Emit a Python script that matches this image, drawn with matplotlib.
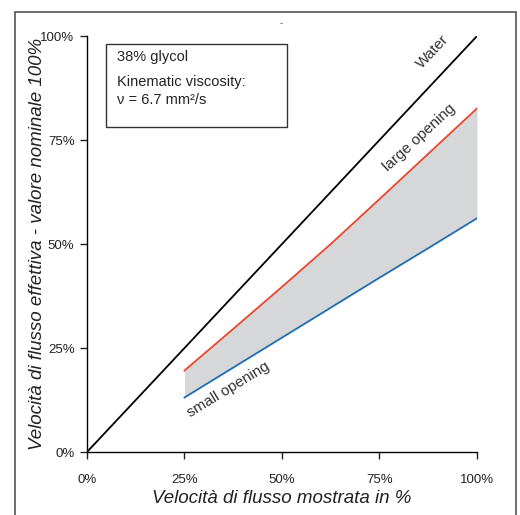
"""portata effettiva vs portata mostrata (38% glicole)."""

import matplotlib.pyplot as plt
from matplotlib.patches import Rectangle

# dati (in %)
water_x = [0, 100]
water_y = [0, 100]

open_x = [25, 37.5, 50, 62.5, 75, 87.5, 100]
large_y = [19.6, 29.6, 39.7, 50.0, 60.8, 71.7, 82.6]
small_y = [13.1, 20.3, 27.5, 34.7, 41.9, 49.0, 56.2]

ticks = [0, 25, 50, 75, 100]
tick_labels = ["0%", "25%", "50%", "75%", "100%"]

info_lines = ["38% glycol", "Kinematic viscosity:", "ν = 6.7 mm²/s"]

plt.rcParams["font.family"] = ["Liberation Sans", "DejaVu Sans"]

fig = plt.figure(figsize=(5.2, 5.15), dpi=100)
ax = fig.add_axes([0.1673, 0.1223, 0.75, 0.8077])

# cornice esterna
fig.patches.append(Rectangle((15 / 520, -0.02), 501 / 520, 1.02 - 12 / 515,
                             transform=fig.transFigure, fill=False,
                             edgecolor="#555555", linewidth=1.2))

ax.fill_between(open_x, small_y, large_y, color="#d6d7d9", linewidth=0)
ax.plot(water_x, water_y, color="black", linewidth=1.3)
ax.plot(open_x, large_y, color="#e8452c", linewidth=1.3)
ax.plot(open_x, small_y, color="#1f6db5", linewidth=1.3)

ax.set_xlim(0, 100)
ax.set_ylim(0, 100)
ax.set_xticks(ticks)
ax.set_xticklabels(tick_labels)
ax.set_yticks(ticks)
ax.set_yticklabels(tick_labels)
ax.tick_params(direction="out", length=5, width=1, labelsize=9.5, pad=11,
               colors="#222222")
ax.tick_params(axis="y", pad=4)
for side in ["top", "right"]:
    ax.spines[side].set_visible(False)
for side in ["left", "bottom"]:
    ax.spines[side].set_linewidth(1)

ax.set_xlabel("Velocità di flusso mostrata in %", fontsize=13.5, style="italic",
              color="#222222", labelpad=3)
ax.set_ylabel("Velocità di flusso effettiva - valore nominale 100%", fontsize=13.5,
              style="italic", color="#222222")
ax.yaxis.set_label_coords(-0.104, 0.5)

# riquadro informativo
ax.add_patch(Rectangle((4.87, 78.1), 46.4, 20.0, fill=False, edgecolor="#333333",
                       linewidth=1, clip_on=False))
for text, yy in zip(info_lines, [94.9, 88.9, 84.6]):
    ax.text(7.6, yy, text, fontsize=10.5, va="center", ha="left", color="#222222")

ax.text(88.7, 96.2, "Water", rotation=46.8, fontsize=11, ha="center", va="center",
        color="#333333")
ax.text(85.1, 75.5, "large opening", rotation=42.5, fontsize=11, ha="center",
        va="center", color="#333333")
ax.text(36.2, 14.9, "small opening", rotation=31.4, fontsize=11, ha="center",
        va="center", color="#333333")
fig.text(281 / 520, 1 - 23 / 515, "-", fontsize=7, ha="center", va="center",
         color="#555555")

fig.savefig("out.png", dpi=100)
